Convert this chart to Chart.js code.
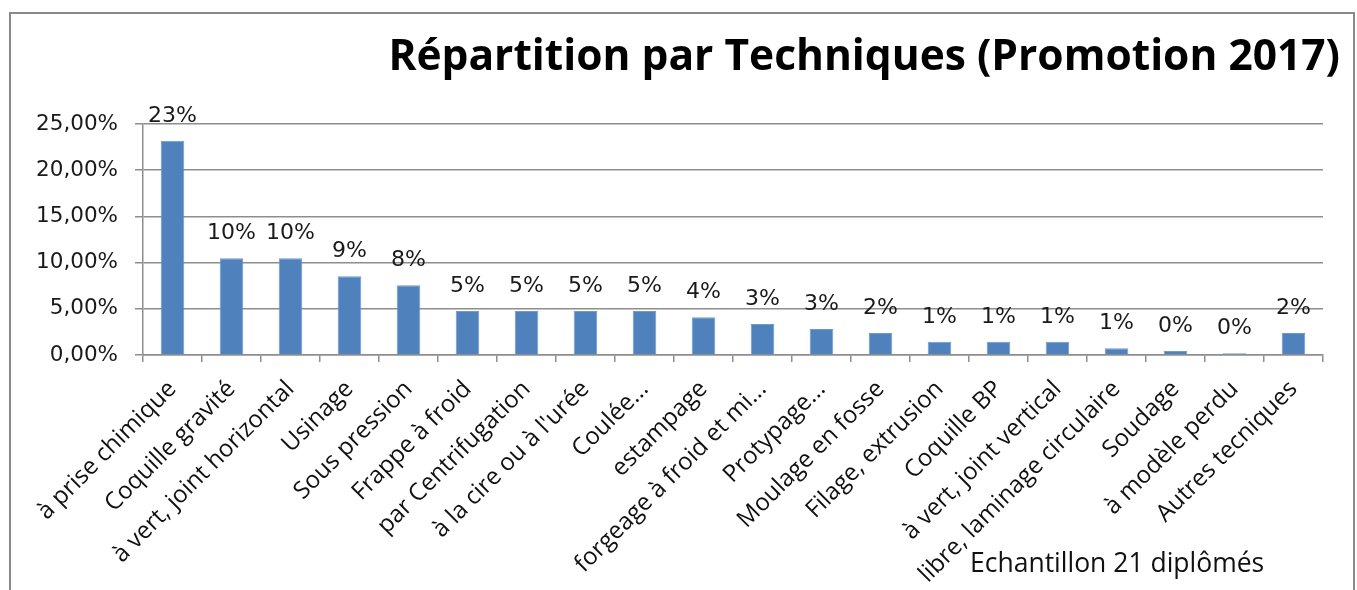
<!DOCTYPE html>
<html>
<head>
<meta charset="utf-8">
<script src="https://cdn.jsdelivr.net/npm/chart.js@4/dist/chart.umd.min.js"></script>
<style>
  html, body { margin:0; padding:0; background:#fff; }
  body { width:1357px; height:590px; position:relative; overflow:hidden; }
  #frame { position:absolute; left:9px; top:12px; width:1342px; height:640px; border:2px solid #8a8a8a; }
  #wrap { position:absolute; left:0; top:0; width:1357px; height:590px; }
  #title { position:absolute; right:17px; top:33px; font:bold 42.5px "Open Sans", sans-serif; color:#000; line-height:1; white-space:nowrap; }
  #note { position:absolute; left:970px; top:549px; font:26.5px "Open Sans", sans-serif; color:#111; line-height:1; white-space:nowrap; }
</style>
</head>
<body>
<div id="frame"></div>
<div id="wrap"><canvas id="chart" width="1357" height="590"></canvas></div>
<div id="title">Répartition par Techniques (Promotion 2017)</div>
<div id="note">Echantillon 21 diplômés</div>
<script>

//=============================
// DATA
//=============================

const categories = [
    "à prise chimique",
    "Coquille gravité",
    "à vert, joint horizontal",
    "Usinage",
    "Sous pression",
    "Frappe à froid",
    "par Centrifugation",
    "à la cire ou à l'urée",
    "Coulée...",
    "estampage",
    "forgeage à froid et mi...",
    "Protypage...",
    "Moulage en fosse",
    "Filage, extrusion",
    "Coquille BP",
    "à vert, joint vertical",
    "libre, laminage circulaire",
    "Soudage",
    "à modèle perdu",
    "Autres tecniques"
];

// percent values
const shares = [23.2, 10.46, 10.46, 8.52, 7.54, 4.76, 4.76, 4.76, 4.76, 4.08,
                3.35, 2.81, 2.38, 1.44, 1.44, 1.44, 0.72, 0.43, 0.18, 2.38];

const shareLabels = ["23%","10%","10%","9%","8%","5%","5%","5%","5%","4%",
                     "3%","3%","2%","1%","1%","1%","1%","0%","0%","2%"];

const yTicks = [0, 5, 10, 15, 20, 25];

//=============================
// DATA LABELS PLUGIN
//=============================

const barLabels = {
    id: "barLabels",
    afterDatasetsDraw(chart){
        const ctx = chart.ctx;
        const meta = chart.getDatasetMeta(0);
        ctx.save();
        ctx.font = "22px 'DejaVu Sans'";
        ctx.fillStyle = "#1a1a1a";
        ctx.textAlign = "center";
        ctx.textBaseline = "alphabetic";
        meta.data.forEach((bar, i) => {
            ctx.fillText(shareLabels[i], bar.x, bar.y - 19);
        });
        ctx.restore();
    }
};

//=============================
// CHART
//=============================

const gridColor = "#8e8e8e";

new Chart(document.getElementById("chart"), {
    type: "bar",
    data: {
        labels: categories,
        datasets: [{
            data: shares,
            backgroundColor: "#4f81bd",
            borderColor: "#6f9ad0",
            borderWidth: 1,
            categoryPercentage: 1,
            barPercentage: 0.4
        }]
    },
    options: {
        responsive: false,
        animation: false,
        events: [],
        layout: {
            padding: { left: 20, top: 124, right: 34, bottom: 0 }
        },
        plugins: {
            legend: { display: false },
            title: { display: false },
            tooltip: { enabled: false }
        },
        scales: {
            x: {
                offset: true,
                grid: {
                    offset: true,
                    drawOnChartArea: false,
                    drawTicks: true,
                    tickLength: 7,
                    color: gridColor,
                    lineWidth: 1.5
                },
                border: { color: gridColor, width: 1.5 },
                ticks: {
                    autoSkip: false,
                    minRotation: 45,
                    maxRotation: 45,
                    padding: 13,
                    color: "#111",
                    font: { family: "'Open Sans'", size: 24 }
                },
                afterFit(scale){
                    scale.height = 235;
                }
            },
            y: {
                min: 0,
                max: 25,
                afterBuildTicks(scale){
                    scale.ticks = yTicks.map(v => ({ value: v }));
                },
                grid: {
                    color: gridColor,
                    lineWidth: 1.5,
                    tickLength: 8
                },
                border: { color: gridColor, width: 1.5 },
                ticks: {
                    padding: 17,
                    color: "#1a1a1a",
                    font: { family: "'DejaVu Sans'", size: 21.5 },
                    callback: v => v.toFixed(2).replace(".", ",") + "%"
                },
                afterFit(scale){
                    scale.width = 123;
                }
            }
        }
    },
    plugins: [barLabels]
});

</script>
</body>
</html>
